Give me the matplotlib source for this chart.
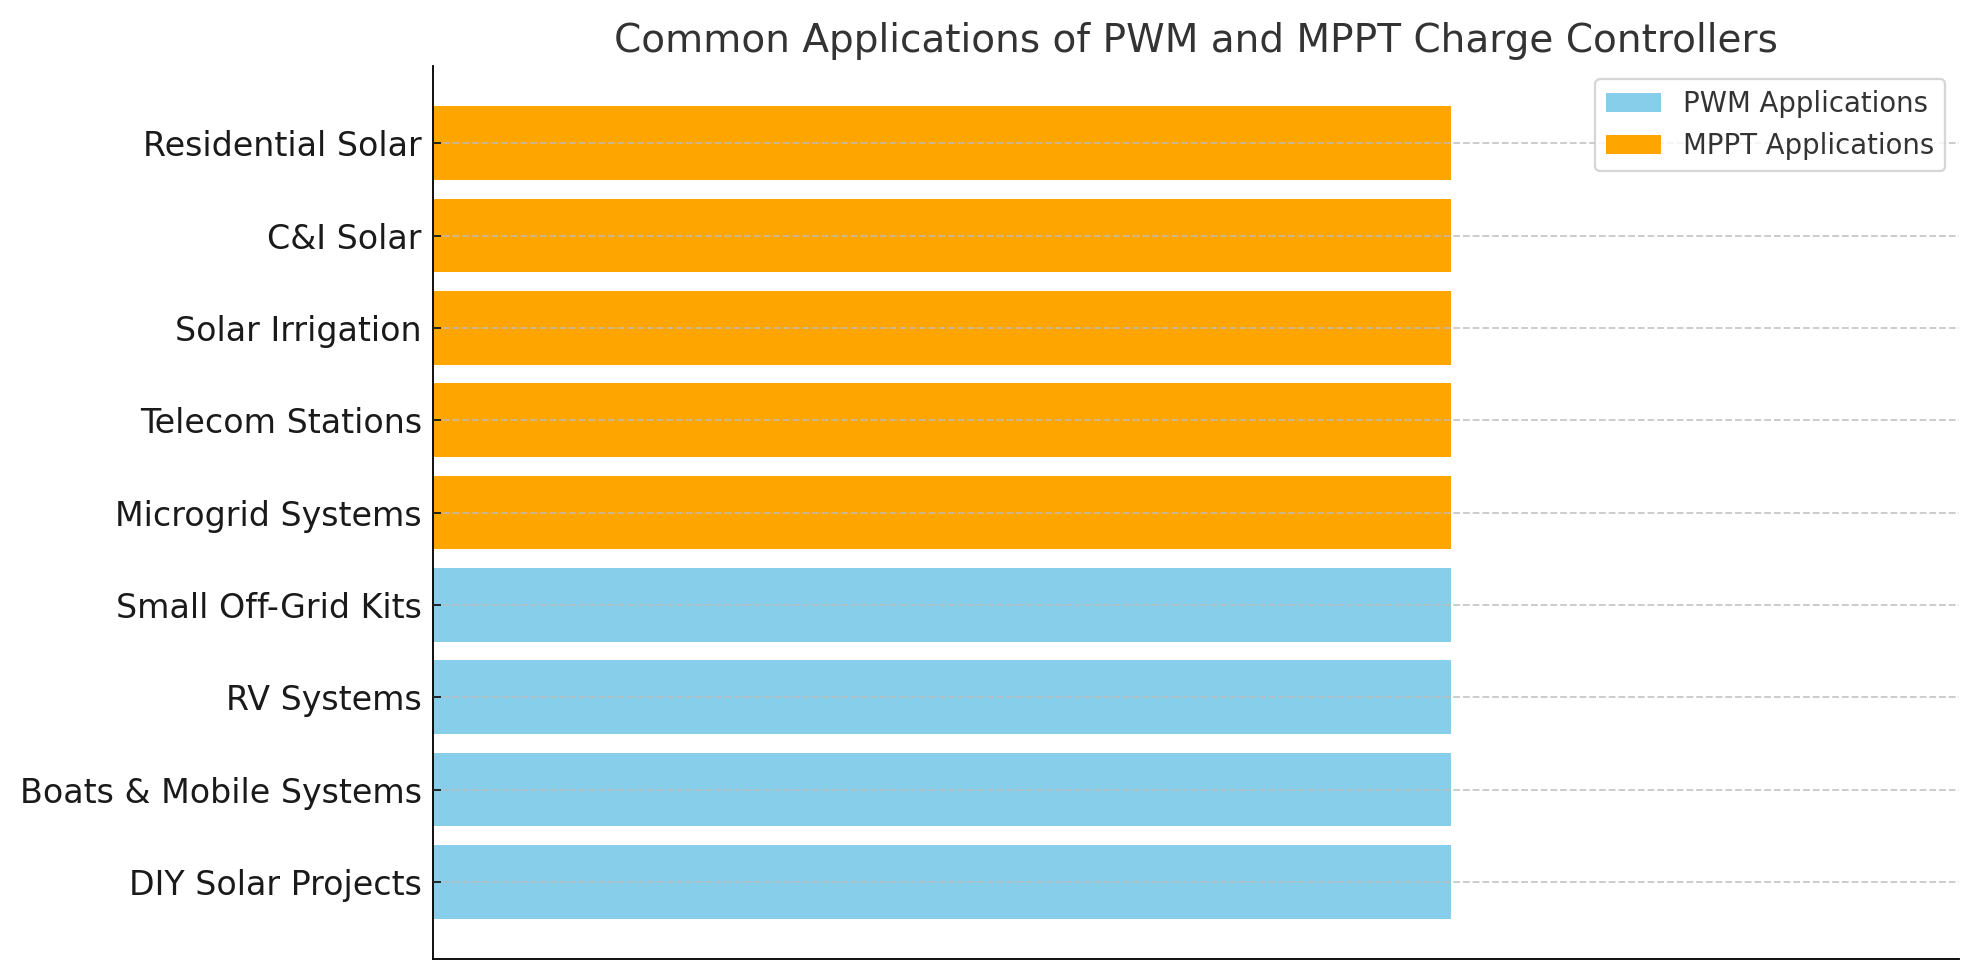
import matplotlib.pyplot as plt

pwm_apps = ["DIY Solar Projects", "Boats & Mobile Systems", "RV Systems", "Small Off-Grid Kits"]
mppt_apps = ["Microgrid Systems", "Telecom Stations", "Solar Irrigation", "C&I Solar", "Residential Solar"]
pwm_vals = [1, 1, 1, 1]
mppt_vals = [1, 1, 1, 1, 1]

fig, ax = plt.subplots(figsize=(1979 / 165, 980 / 165), dpi=165)
fig.subplots_adjust(left=0.219, right=0.990, top=0.933, bottom=0.021)

ax.barh(pwm_apps, pwm_vals, color="skyblue", label="PWM Applications")
ax.barh(mppt_apps, mppt_vals, color="orange", label="MPPT Applications")

ax.set_xlim(0, 1.5)
ax.set_xticks([])
ax.set_title("Common Applications of PWM and MPPT Charge Controllers", fontsize=17, color="#333333")
ax.tick_params(axis="y", labelsize=14.5, colors="#1a1a1a", direction="in", pad=5)
ax.spines["top"].set_visible(False)
ax.spines["right"].set_visible(False)
ax.grid(axis="y", linestyle="--", color="#bbbbbb", alpha=0.8, linewidth=0.8)
ax.set_axisbelow(False)

leg = ax.legend(loc="upper right", fontsize=12)
for t in leg.get_texts():
    t.set_color("#333333")

fig.savefig("out.png", dpi=165)
